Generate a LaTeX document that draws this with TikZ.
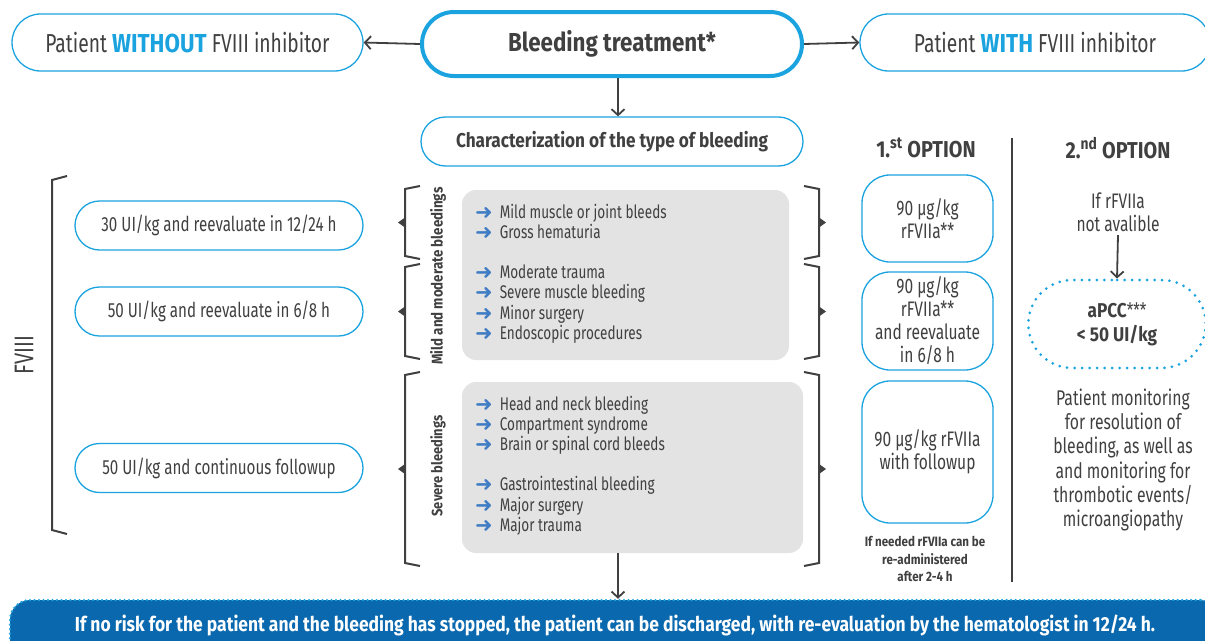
\documentclass[tikz,border=0pt]{standalone}
\usepackage{fontspec}
\setmainfont{Fira Sans}[FakeStretch=0.74, BoldFeatures={FakeStretch=0.86}]
\newfontfamily\dejavu{DejaVu Sans}
\usetikzlibrary{arrows.meta,shapes.misc}
\definecolor{txt}{HTML}{404040}
\definecolor{lb}{HTML}{1BA3DF}
\definecolor{db}{HTML}{0A68AE}
\definecolor{gb}{HTML}{E3E3E3}
\definecolor{ab}{HTML}{3F7CC4}
\newcommand{\fs}[2]{\fontsize{#1}{#2}\selectfont}
\newcommand{\itm}{{\dejavu\fs{21}{20}\color{ab}\raisebox{-1pt}{➜}}\hspace{7pt}}
\newcommand{\leftbrk}[3]{%
  \draw[brk] (#1+15,#2-3) -- (#1,#2) -- (#1,#3) -- (#1+15,#3+3);
  \fill[txt] (#1,{(#2+#3)/2-5}) -- (#1-7,{(#2+#3)/2}) -- (#1,{(#2+#3)/2+5}) -- cycle;}
\newcommand{\rightbrk}[3]{%
  \draw[brk] (#1-15,#2-3) -- (#1,#2) -- (#1,#3) -- (#1-15,#3+3);
  \fill[txt] (#1,{(#2+#3)/2-5}) -- (#1+7,{(#2+#3)/2}) -- (#1,{(#2+#3)/2+5}) -- cycle;}
\begin{document}
\begin{tikzpicture}[x=1pt,y=-1pt,text=txt,
  pill/.style={rounded rectangle, draw=lb, line width=1.3pt, inner sep=0pt},
  optbox/.style={draw=lb, line width=1.3pt, rounded corners=28pt, inner sep=0pt, minimum width=131pt, align=center, font=\fs{21}{23}},
  graybox/.style={fill=gb, rounded corners=14pt, inner sep=0pt},
  arr/.style={draw=txt, line width=1.8pt, -{Straight Barb[length=6pt,width=13pt,line width=1.8pt]}},
  brk/.style={draw=txt, line width=2pt},
  lst/.style={anchor=west, align=left, inner sep=0pt, font=\fs{18.3}{20.2}}]
\useasboundingbox (0,0) rectangle (1205,640);

% top row
\node[pill, minimum width=351pt, minimum height=57pt, font=\fs{26}{30}] (wo) at (187.5,42.5)
  {Patient \textbf{\color{lb}WITHOUT} FVIII inhibitor};
\node[pill, line width=4pt, minimum width=380pt, minimum height=64pt, font=\bfseries\fs{26}{30}] (bt) at (612,44)
  {Bleeding treatment*};
\node[pill, minimum width=350pt, minimum height=57pt, font=\fs{26}{30}] (wi) at (1035,42.5)
  {Patient \textbf{\color{lb}WITH} FVIII inhibitor};
\node[pill, minimum width=382pt, minimum height=49pt, font=\bfseries\fs{20}{24}] (ch) at (612,141.5)
  {Characterization of the type of bleeding};

\draw[arr] (bt.west) -- (wo.east);
\draw[arr] (bt.east) -- (wi.west);
\draw[arr] ([xshift=6pt]bt.south) -- ([xshift=6pt]ch.north);

% FVIII column
\node[rotate=90, font=\fs{27}{30}] (fv) at (24,355) {FVIII};
\draw[brk] (67,176) -- (52,180) -- (52,530) -- (67,534);
\node[pill, minimum width=288pt, minimum height=49pt, font=\fs{20.5}{24}] (l1) at (219,225.5) {30 UI/kg and reevaluate in 12/24 h};
\node[pill, minimum width=288pt, minimum height=49pt, font=\fs{20.5}{24}] (l2) at (219,311.5) {50 UI/kg and reevaluate in 6/8 h};
\node[pill, minimum width=288pt, minimum height=49pt, font=\fs{20.5}{24}] (l3) at (219,468) {50 UI/kg and continuous followup};

% brackets
\leftbrk{405}{189}{256}
\leftbrk{405}{267}{356}
\leftbrk{405}{375}{563}
\rightbrk{819}{189}{256}
\rightbrk{819}{267}{356}
\rightbrk{819}{375}{563}

\node[rotate=90, font=\bfseries\fs{15.5}{17}] (lab1) at (438,276) {Mild and moderate bleedings};
\node[rotate=90, font=\bfseries\fs{15}{17}] (lab2) at (438,466) {Severe bleedings};

% gray boxes
\node[graybox, minimum width=327pt, minimum height=170pt] (g1) at (625.5,275) {};
\node[graybox, minimum width=341pt, minimum height=171pt] (g2) at (632.5,467.5) {};
\node[lst] (t1) at (475,273.5) {\itm Mild muscle or joint bleeds\\ \itm Gross hematuria\\[20.2pt]
  \itm Moderate trauma\\ \itm Severe muscle bleeding\\ \itm Minor surgery\\ \itm Endoscopic procedures};
\node[lst] (t2) at (475,465.5) {\itm Head and neck bleeding\\ \itm Compartment syndrome\\ \itm Brain or spinal cord bleeds\\[20.2pt]
  \itm Gastrointestinal bleeding\\ \itm Major surgery\\ \itm Major trauma};

% options
\node[font=\bfseries\fs{23}{26}] (o1) at (926,148) {1.\textsuperscript{st} OPTION};
\node[font=\bfseries\fs{23}{26}] (o2) at (1118,148) {2.\textsuperscript{nd} OPTION};
\draw[txt, line width=2.5pt] (1012,138) -- (1012,582);

\node[optbox, minimum height=87pt] (p1) at (927.5,218.5) {90 µg/kg\\rFVIIa**};
\node[optbox, minimum height=98pt] (p2) at (927.5,321) {90 µg/kg\\rFVIIa**\\and reevaluate\\in 6/8 h};
\node[optbox, minimum height=142pt] (p3) at (927.5,452) {90 µg/kg rFVIIa\\with followup};
\node[align=center, font=\bfseries\fs{13.5}{17.5}] (note) at (925,559) {If needed rFVIIa can be\\re-administered\\after 2-4 h};

\node[align=center, font=\fs{21}{23}] (if) at (1118,212) {If rFVIIa\\not avalible};
\node[rounded rectangle, draw=lb, line width=3pt, dash pattern=on 0pt off 7.5pt, line cap=round,
  minimum width=184pt, minimum height=88pt, align=center, font=\fs{20}{24}] (ap) at (1117,324)
  {\textbf{aPCC}***\\\textbf{< 50 UI/kg}};
\draw[arr] (if.south) -- (ap.north);
\node[align=center, font=\fs{21.3}{24.2}] (mon) at (1123,460) {Patient monitoring\\for resolution of\\bleeding, as well as\\and monitoring for\\thrombotic events/\\microangiopathy};

% bottom bar
\node[fill=db, draw=lb, line width=2.5pt, dash pattern=on 0pt off 4.5pt, line cap=round, rounded corners=20pt,
  minimum width=1210pt, minimum height=70pt, inner sep=0pt] (bar) at (615,635) {};
\node[text=white, font=\bfseries\fs{20.3}{22}] (bt2) at (615,625) {If no risk for the patient and the bleeding has stopped, the patient can be discharged, with re-evaluation by the hematologist in 12/24 h.};
\draw[arr] ([xshift=-14.5pt]g2.south) -- ([xshift=3pt]bar.north);
\end{tikzpicture}
\end{document}
